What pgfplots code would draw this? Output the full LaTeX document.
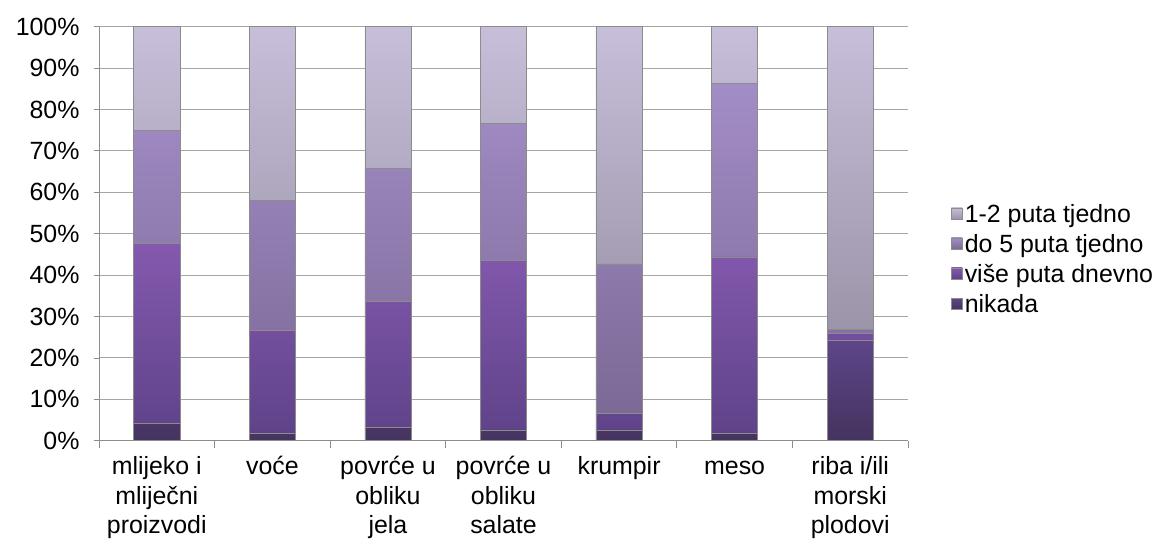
\documentclass[border=0pt]{standalone}
\usepackage{fontspec}
\setmainfont{Liberation Sans}
\usepackage{pgfplots}
\pgfplotsset{compat=1.18}
\definecolor{atop}{HTML}{C7BFDA}
\definecolor{abot}{HTML}{9C94A8}
\definecolor{btop}{HTML}{A38DC6}
\definecolor{bbot}{HTML}{7B6996}
\definecolor{ctop}{HTML}{8459AE}
\definecolor{cbot}{HTML}{5F4389}
\definecolor{dtop}{HTML}{5E4689}
\definecolor{dbot}{HTML}{45335F}
\begin{document}
\begin{tikzpicture}
\begin{axis}[
  scale only axis, width=809bp, height=414bp,
  ybar stacked, bar width=0.4,
  xmin=-0.5, xmax=6.5, ymin=0, ymax=100,
  ytick={0,10,...,100},
  yticklabel={\pgfmathprintnumber{\tick}\%},
  /pgf/number format/assume math mode=true,
  axis x line*=bottom, axis y line*=left,
  axis line style={draw=black!45, line width=0.8bp},
  ymajorgrids, grid style={draw=black!35, line width=0.9bp},
  xtick={0,...,6},
  xticklabels={{\strut mlijeko i\\mliječni\\proizvodi},{\strut voće},{\strut povrće u\\obliku\\jela},{\strut povrće u\\obliku\\salate},{\strut krumpir},{\strut meso},{\strut riba i/ili\\morski\\plodovi}},
  major x tick style={draw=none},
  minor xtick={-0.5,0.5,...,6.5},
  minor x tick style={draw=black!45, line width=0.8bp},
  y tick style={draw=black!45, line width=0.8bp},
  tick align=outside, minor tick length=7bp, major tick length=5bp,
  xticklabel style={align=center, anchor=north, font=\fontsize{25}{29.5}\selectfont, yshift=-5bp},
  yticklabel style={font=\fontsize{25}{28}\selectfont, xshift=-11bp},
  reverse legend,
  legend cell align=left,
  legend image code/.code={\draw[#1, draw=black!45] (0bp,-5bp) rectangle (11bp,6bp);},
  legend style={draw=none, fill=none, at={(1,0.439)}, anchor=west, xshift=40bp,
    font=\fontsize{25}{28}\selectfont, row sep=6.5bp,
    /tikz/every even column/.append style={column sep=2bp}},
]
\addplot[draw=black!45, line width=0.6bp, top color=dtop, bottom color=dbot] coordinates {(0,4.2) (1,1.8) (2,3.2) (3,2.6) (4,2.6) (5,1.8) (6,24.3)};
\addplot[draw=black!45, line width=0.6bp, top color=ctop, bottom color=cbot] coordinates {(0,43.5) (1,24.9) (2,30.4) (3,41.0) (4,4.0) (5,42.6) (6,1.6)};
\addplot[draw=black!45, line width=0.6bp, top color=btop, bottom color=bbot] coordinates {(0,27.3) (1,31.4) (2,32.2) (3,33.1) (4,36.1) (5,41.9) (6,1.0)};
\addplot[draw=black!45, line width=0.6bp, top color=atop, bottom color=abot] coordinates {(0,25.0) (1,41.9) (2,34.2) (3,23.3) (4,57.3) (5,13.7) (6,73.1)};
\legend{nikada, više puta dnevno, do 5 puta tjedno, 1-2 puta tjedno}
\end{axis}
\pgfresetboundingbox
\path[use as bounding box] (-99bp,-105.3bp) rectangle (1073bp,440.7bp);
\end{tikzpicture}
\end{document}
